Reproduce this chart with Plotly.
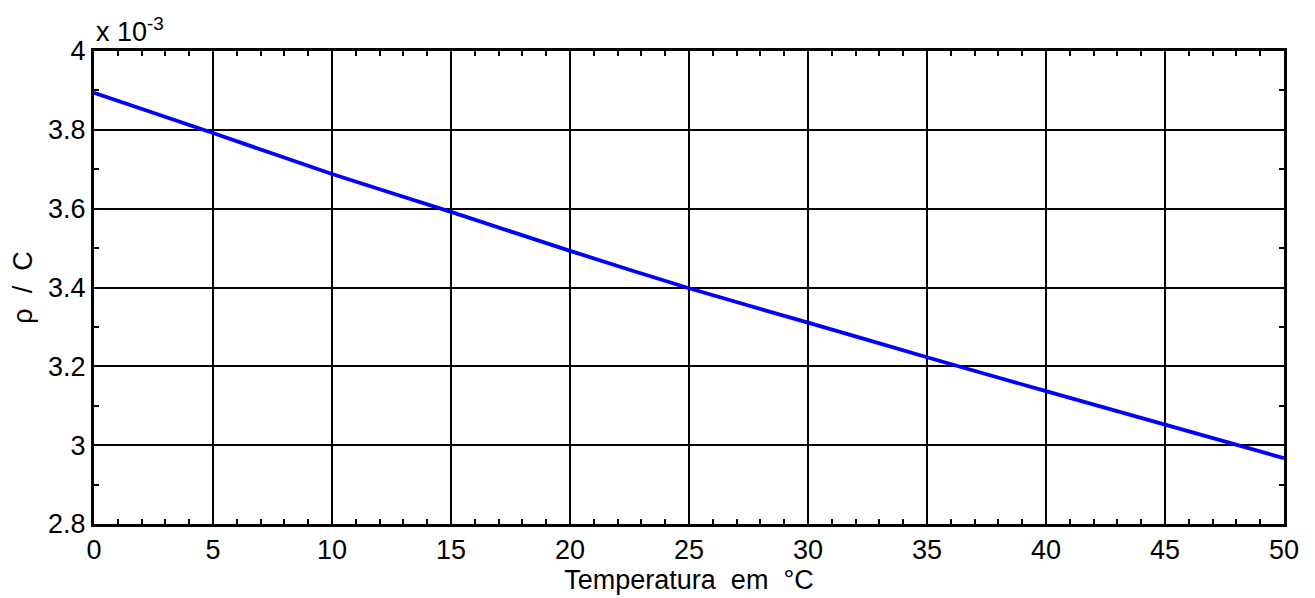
import plotly.graph_objects as go

# Temperature (°C) and rho/C in units of 1e-3
temperatura = [0, 5, 10, 15, 20, 25, 30, 35, 40, 45, 50]
rho_c = [3.894, 3.792, 3.688, 3.592, 3.493, 3.398, 3.311, 3.223, 3.137, 3.052, 2.967]

x_ticks = [0, 5, 10, 15, 20, 25, 30, 35, 40, 45, 50]
y_ticks = [2.8, 3.0, 3.2, 3.4, 3.6, 3.8, 4.0]
y_tick_text = ["2.8", "3", "3.2", "3.4", "3.6", "3.8", "4"]

FONT = "Liberation Sans, Arial, Helvetica, sans-serif"
FS = 27

fig = go.Figure()
fig.add_trace(go.Scatter(
    x=temperatura, y=rho_c, mode="lines",
    line=dict(color="#0000ff", width=3.8, shape="spline", smoothing=0.6),
    showlegend=False,
))

axis_common = dict(
    showline=True, linecolor="black", linewidth=3, mirror="allticks",
    ticks="inside", ticklen=11, tickwidth=2, tickcolor="black",
    showgrid=True, gridcolor="black", gridwidth=1.5,
    zeroline=False,
    tickfont=dict(family=FONT, size=FS, color="black"),
)

fig.update_xaxes(
    range=[0, 50], tickvals=x_ticks,
    minor=dict(dtick=1, ticks="inside", ticklen=5, tickwidth=2,
               tickcolor="black", showgrid=False),
    title=dict(text="Temperatura  em  °C", font=dict(family=FONT, size=FS, color="black"),
               standoff=2),
    **axis_common,
)
fig.update_yaxes(
    range=[2.8, 4.0], tickvals=y_ticks, ticktext=y_tick_text,
    minor=dict(dtick=0.1, ticks="inside", ticklen=5, tickwidth=2,
               tickcolor="black", showgrid=False),
    title=dict(text="ρ  /  C", font=dict(family=FONT, size=FS, color="black"),
               standoff=8),
    **axis_common,
)

fig.add_annotation(
    xref="paper", yref="paper", x=0, y=1, xanchor="left", yanchor="bottom",
    yshift=2, text="x 10<sup>-3</sup>", showarrow=False,
    font=dict(family=FONT, size=FS, color="black"),
)

fig.update_layout(
    width=1315, height=598,
    margin=dict(l=94, r=31, t=51, b=70),
    plot_bgcolor="white", paper_bgcolor="white",
)

fig.write_html("out.html")
